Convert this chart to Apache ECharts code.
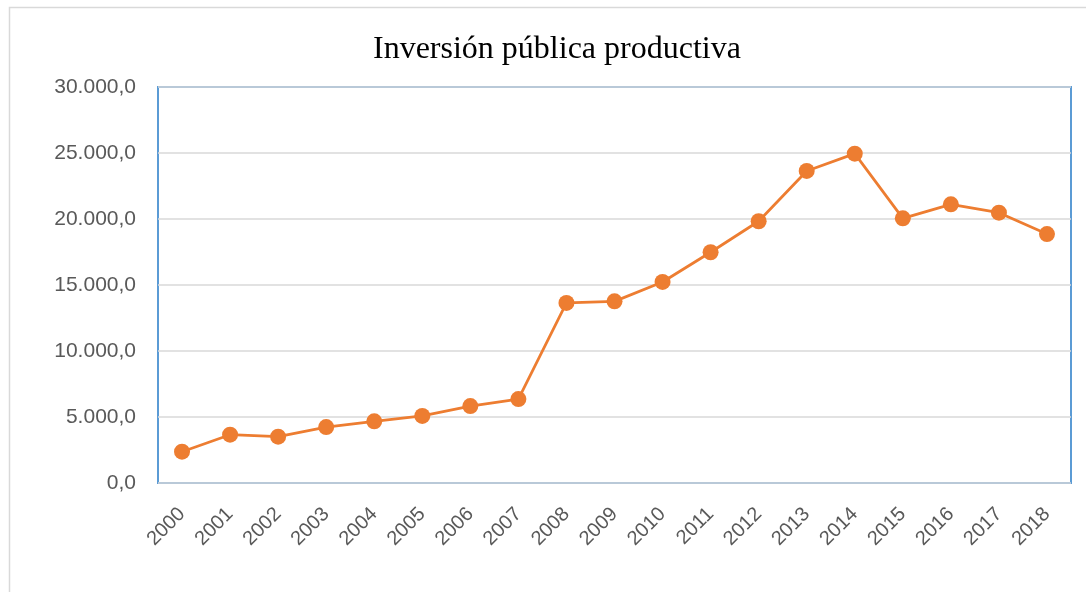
<!DOCTYPE html>
<html>
<head>
<meta charset="utf-8">
<script src="https://cdn.jsdelivr.net/npm/echarts@6/dist/echarts.min.js"></script>
<style>
  html, body { margin: 0; padding: 0; background: #fff; }
  #chart { width: 1086px; height: 592px; }
</style>
</head>
<body>
<div id="chart"></div>
<script>
// años
var years = ['2000', '2001', '2002', '2003', '2004', '2005', '2006', '2007', '2008', '2009',
             '2010', '2011', '2012', '2013', '2014', '2015', '2016', '2017', '2018'];
// inversion publica productiva
var inversion = [2370, 3660, 3510, 4240, 4670, 5080, 5830, 6360, 13640, 13760,
                 15230, 17480, 19830, 23640, 24950, 20050, 21110, 20480, 18860];
var yTicks = [0, 5000, 10000, 15000, 20000, 25000, 30000];

function fmtEs(v) {
    var s = Math.round(v).toString().replace(/\B(?=(\d{3})+(?!\d))/g, '.');
    return s + ',0';
}

var chart = echarts.init(document.getElementById('chart'));
var option = {
    animation: false,
    title: {
        text: 'Inversión pública productiva',
        left: 368,
        top: 29,
        textStyle: {
            fontFamily: 'Liberation Serif',
            fontSize: 32,
            fontWeight: 'normal',
            color: '#000'
        }
    },
    graphic: [{
        type: 'rect',
        shape: { x: 9.5, y: 7.5, width: 1100, height: 600 },
        style: { fill: 'none', stroke: '#d9d9d9', lineWidth: 1.5 },
        silent: true
    }],
    grid: {
        left: 158,
        top: 87,
        right: 15,
        bottom: 109,
        show: true,
        borderColor: '#5B9BD5',
        borderWidth: 2,
        backgroundColor: 'transparent'
    },
    xAxis: {
        type: 'category',
        boundaryGap: true,
        data: years,
        axisLine: { show: false },
        axisTick: { show: false },
        axisLabel: {
            rotate: 45,
            margin: 28,
            color: '#595959',
            fontFamily: 'Liberation Sans',
            fontSize: 20
        }
    },
    yAxis: {
        type: 'value',
        min: yTicks[0],
        max: yTicks[yTicks.length - 1],
        interval: 5000,
        axisLine: { show: false },
        axisTick: { show: false },
        axisLabel: {
            margin: 22,
            color: '#595959',
            fontFamily: 'Liberation Sans',
            fontSize: 21,
            formatter: fmtEs
        },
        splitLine: { lineStyle: { color: '#d9d9d9', width: 1.5 } }
    },
    series: [{
        name: 'Inversión pública productiva',
        type: 'line',
        data: inversion,
        symbol: 'circle',
        symbolSize: 16,
        itemStyle: { color: '#ED7D31' },
        lineStyle: { color: '#ED7D31', width: 2.75 }
    }]
};
chart.setOption(option);
</script>
</body>
</html>
